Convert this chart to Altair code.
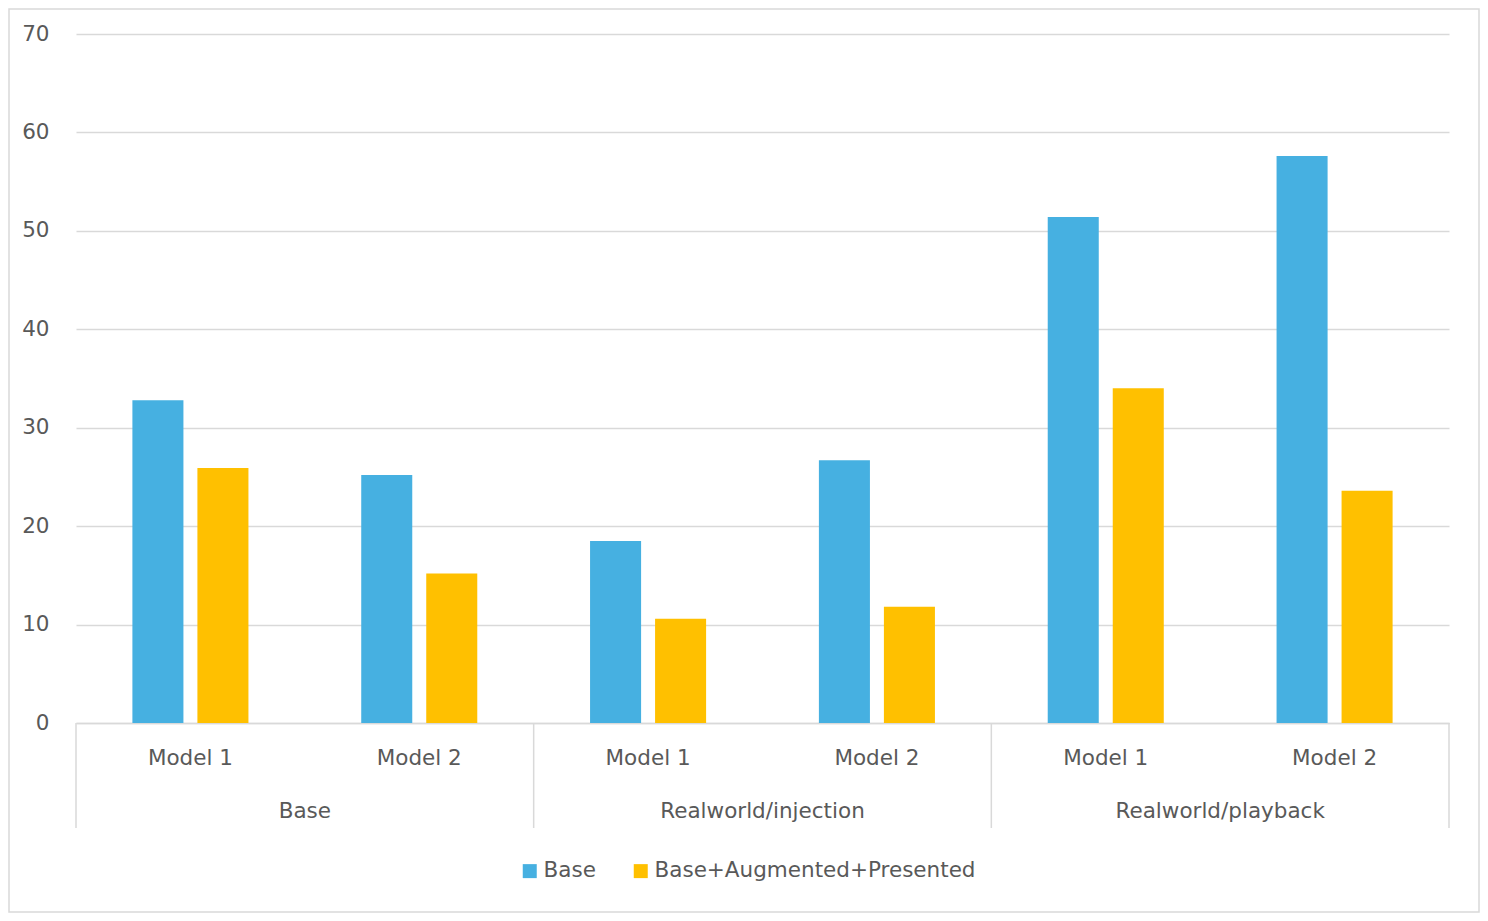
import altair as alt
import pandas as pd

groups = ["Base", "Realworld/injection", "Realworld/playback"]
models = ["Model 1", "Model 2"]
series = ["Base", "Base+Augmented+Presented"]
base_vals = [32.8, 25.2, 18.5, 26.7, 51.4, 57.6]
aug_vals = [25.9, 15.2, 10.6, 11.8, 34.0, 23.6]
colors = ["#46B0E1", "#FFC000"]

keys = [f"{g}|{m}" for g in groups for m in models]
rows = []
for i, k in enumerate(keys):
    rows.append({"key": k, "series": series[0], "value": base_vals[i]})
    rows.append({"key": k, "series": series[1], "value": aug_vals[i]})
df = pd.DataFrame(rows)

W, H = 1373, 689
FONT = "DejaVu Sans"
FS = 21.5
TXT = "#595959"
GRID = "#d9d9d9"

xscale = alt.Scale(domain=keys, paddingInner=0, paddingOuter=0)

bars = alt.Chart(df).mark_bar().encode(
    x=alt.X("key:N", scale=xscale, sort=keys, title=None,
            axis=alt.Axis(labelExpr="split(datum.label, '|')[1]", labelAngle=0,
                          ticks=False, labelPadding=24, labelFontSize=FS,
                          labelColor=TXT, labelFont=FONT, domainColor=GRID,
                          domainWidth=1.5, labelBaseline="top")),
    xOffset=alt.XOffset("series:N", sort=series,
                        scale=alt.Scale(paddingInner=0.215, paddingOuter=0.8675)),
    y=alt.Y("value:Q", scale=alt.Scale(domain=[0, 70]), title=None,
            axis=alt.Axis(values=[0, 10, 20, 30, 40, 50, 60, 70], domain=False, ticks=False,
                          labelPadding=27, labelFontSize=FS, labelColor=TXT,
                          labelFont=FONT, gridColor=GRID, gridWidth=1.5)),
    color=alt.Color("series:N", sort=series,
                    scale=alt.Scale(domain=series, range=colors),
                    legend=alt.Legend(title=None, orient="none", direction="horizontal",
                                      legendX=443, legendY=826, symbolType="square",
                                      symbolSize=196, symbolStrokeWidth=0,
                                      labelFontSize=FS, labelFont=FONT, labelColor=TXT,
                                      labelOffset=3, columnPadding=34, padding=0,
                                      labelLimit=0)),
)

gdf = pd.DataFrame({"key": [f"{g}|{models[0]}" for g in groups], "group": groups})
glabels = alt.Chart(gdf).mark_text(fontSize=FS, font=FONT, color=TXT, baseline="middle").encode(
    x=alt.X("key:N", scale=xscale, sort=keys, bandPosition=1),
    y=alt.value(H + 89),
    text="group:N",
)

sep_start = alt.Chart(gdf).mark_rule(color=GRID, strokeWidth=1.5).encode(
    x=alt.X("key:N", scale=xscale, sort=keys, bandPosition=0),
    y=alt.value(H),
    y2=alt.value(H + 105),
)
ldf = pd.DataFrame({"key": [keys[-1]]})
sep_end = alt.Chart(ldf).mark_rule(color=GRID, strokeWidth=1.5).encode(
    x=alt.X("key:N", scale=xscale, sort=keys, bandPosition=1),
    y=alt.value(H),
    y2=alt.value(H + 105),
)

border = alt.Chart(ldf).mark_rect(fill="transparent", stroke=GRID, strokeWidth=1.5).encode(
    x=alt.value(-67), x2=alt.value(W + 30), y=alt.value(-25), y2=alt.value(H + 189),
)

chart = alt.layer(bars, glabels, sep_start, sep_end, border).properties(
    width=W, height=H,
    autosize=alt.AutoSizeParams(type="none"),
    padding={"left": 68, "top": 26, "right": 31, "bottom": 190},
).configure(background="white").configure_view(strokeWidth=0, stroke="transparent")

chart.save("out.html", embed_options={"renderer": "svg", "actions": False})
